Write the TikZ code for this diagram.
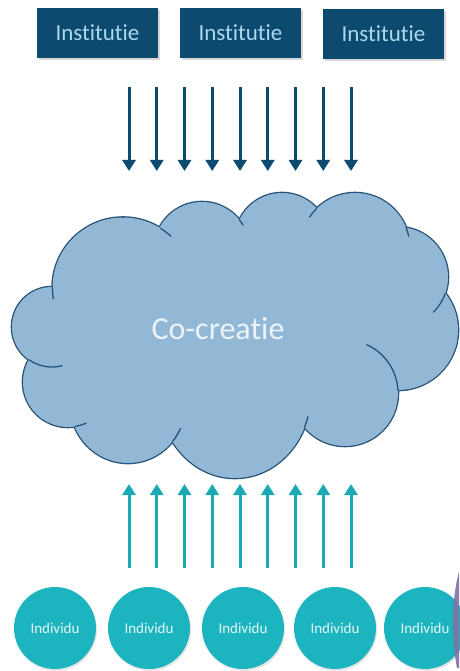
\documentclass[tikz,border=0pt]{standalone}
\usepackage{fontspec}
\setmainfont{Carlito}[Ligatures=NoCommon]
\usetikzlibrary{arrows.meta,shadows}
\definecolor{instblue}{RGB}{12,74,112}
\definecolor{insttext}{RGB}{172,216,238}
\definecolor{cloudfill}{RGB}{147,184,214}
\definecolor{cloudline}{RGB}{38,82,120}
\definecolor{cloudtext}{RGB}{234,243,250}
\definecolor{indteal}{RGB}{28,180,190}
\definecolor{upteal}{RGB}{26,170,181}
\definecolor{indtext}{RGB}{228,246,248}
\definecolor{sidepurple}{RGB}{128,114,168}
\tikzset{
  instbox/.style={fill=instblue, text=insttext, minimum width=121pt, minimum height=50pt,
    inner sep=0pt, font=\fontsize{23}{23}\selectfont,
    drop shadow={shadow xshift=1.5pt, shadow yshift=-2.5pt, opacity=0.3}},
  indcircle/.style={circle, fill=indteal, text=indtext, minimum size=82pt, inner sep=0pt,
    font=\fontsize{15}{15}\selectfont,
    drop shadow={shadow xshift=1pt, shadow yshift=-2pt, opacity=0.2}},
  downarrow/.style={instblue, line width=3pt, -{Triangle[width=13pt,length=11pt]}},
  uparrow/.style={upteal, line width=3pt, -{Triangle[width=13pt,length=11pt]}},
  creaseline/.style={cloudline, line width=1.3pt},
}
\begin{document}
\begin{tikzpicture}[x=1pt,y=-1pt]
\useasboundingbox (0,0) rectangle (459,671);
\fill[white] (0,0) rectangle (459,671);

% Institutie boxes
\node[instbox] (inst1) at (97.5,33) {Institutie};
\node[instbox] (inst2) at (240.5,33) {Institutie};
\node[instbox] (inst3) at (383.5,34) {Institutie};

% downward arrows
\foreach \i/\x in {1/129,2/156.75,3/184.5,4/212.25,5/240,6/267.75,7/295.5,8/323.25,9/351} {
  \coordinate (ds\i) at (\x,87);
  \coordinate (de\i) at (\x,171);
  \draw[downarrow] (ds\i) -- (de\i);
}

% cloud
\def\lobes{123/288/70.5/70.5, 202/250/48/48, 282/240/47/47, 355/248/55/55,
  398/277/50/50, 398/330/60/60, 345/393/53/53, 235/393/76/85,
  128/403/58/60, 68/382/45/45, 52/327/40/40}
\foreach \cx/\cy/\rx/\ry in \lobes {
  \draw[cloudline, line width=2.6pt] (\cx,\cy) ellipse[x radius=\rx, y radius=\ry];
}
\foreach \cx/\cy/\rx/\ry in \lobes {
  \fill[cloudfill] (\cx,\cy) ellipse[x radius=\rx, y radius=\ry];
}
\fill[cloudfill] (235,335) ellipse[x radius=170, y radius=95];
\foreach \cx/\cy/\rx/\ry/\a/\b in {123/288/70.5/70.5/181/171, 123/288/70.5/70.5/-58/-47,
  202/250/48/48/-39/-31, 355/248/55/55/226/214, 355/248/55/55/-22/-12,
  398/277/50/50/19/45, 345/393/53/53/-3/-66, 235/393/76/85/24/16,
  128/403/58/60/40/25, 68/382/45/45/81/66, 52/327/40/40/125/75} {
  \draw[creaseline] ({\cx+\rx*cos(\a)},{\cy+\ry*sin(\a)}) arc[start angle=\a, end angle=\b, x radius=\rx, y radius=\ry];
}
\node[font=\fontsize{32}{32}\selectfont, text=cloudtext, anchor=base, inner sep=0pt] (cocreatie) at (218,339) {Co-creatie};

% upward arrows
\foreach \i/\x in {1/129,2/156.75,3/184.5,4/212.25,5/240,6/267.75,7/295.5,8/323.25,9/351} {
  \coordinate (us\i) at (\x,568);
  \coordinate (ue\i) at (\x,484);
  \draw[uparrow] (us\i) -- (ue\i);
}

% Individu circles
\node[indcircle] (ind1) at (55,628) {Individu};
\node[indcircle] (ind2) at (149,628) {Individu};
\node[indcircle] (ind3) at (243,628) {Individu};
\node[indcircle] (ind4) at (335,628) {Individu};
\node[indcircle] (ind5) at (425,628) {Individu};

% purple edge decoration
\fill[sidepurple, fill opacity=0.9] (459,572) .. controls (453,592) and (450,632) .. (457,668) -- (459,668) -- cycle;
\end{tikzpicture}
\end{document}
